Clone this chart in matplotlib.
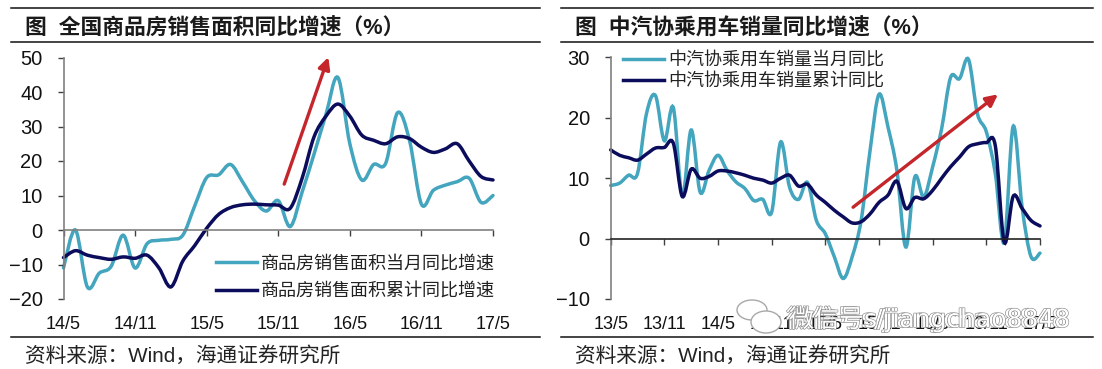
import numpy as np
import matplotlib
matplotlib.use("Agg")
import matplotlib.pyplot as plt
import matplotlib.patheffects as pe
from matplotlib.lines import Line2D
from matplotlib.patches import Ellipse, PathPatch
from matplotlib.path import Path

plt.rcParams['font.family'] = ['Liberation Sans', 'Noto Sans CJK SC', 'DejaVu Sans']

WIDTH = 1102
HEIGHT = 369

TEAL = '#43A5BE'
NAVY = '#0C0C5C'
RED = '#C4262B'

# left chart
house_ticks = ['14/5', '14/11', '15/5', '15/11', '16/5', '16/11', '17/5']
house_month = [-11, 0, -16.5, -12.5, -10.5, -1.5, -11, -4, -3, -2.7, -1.5, 7, 15.2, 16, 19, 14, 8.5,
               5.5, 8.5, 1, 11, 22, 33.5, 44.2, 25, 14.5, 19, 19.3, 34, 26, 7.5, 11.5, 13, 14, 15, 8, 10]
house_total = [-8, -6, -7.3, -8, -8.5, -7.8, -8.2, -7.3, -11, -16.5, -9, -4.5, 0.5, 4.5, 6.5, 7.3, 7.5,
               7.3, 7.2, 6.3, 15, 27, 33, 36.5, 33, 27.5, 26, 25, 27, 26.5, 24, 22.5, 23.5, 25, 20, 15.5, 14.5]
house_arrow_x = [18.5, 22.2]
house_arrow_y = [13.3, 50.1]

# right chart
car_ticks = ['13/5', '13/11', '14/5', '14/11', '15/5', '15/11', '16/5', '16/11', '17/5']
car_month = [8.8, 9.2, 10.5, 10.8, 20.7, 23.7, 16.2, 21.7, 7, 18, 7.7, 11.3, 13.8, 11.3, 9.4, 8.3, 6.3,
             6.5, 4.4, 16, 8.5, 6.5, 9.3, 3, 0.8, -3, -6.6, -3, 3, 14.6, 23.9, 18.5, 11.3, -1.4, 10.2,
             6.9, 11.9, 18.2, 26.7, 26.5, 29.7, 20.7, 17.7, 10.8, -0.6, 18.6, 5.2, -3, -2.4]
car_total = [14.7, 13.8, 13.4, 13, 14, 15, 15.1, 15.8, 7, 11.5, 10, 10.3, 11.2, 11.2, 10.9, 10.5, 10,
             9.7, 9.2, 10, 10.5, 8.7, 9, 7.2, 6, 4.7, 3.6, 2.6, 2.8, 4.1, 6, 7.2, 9.5, 5, 6.8,
             6.6, 8, 10, 11.9, 13.5, 15.2, 15.7, 15.9, 15.4, -0.6, 7, 5, 3, 2.1]
car_arrow_x = [27.1, 43.3]
car_arrow_y = [5.2, 23.9]


def px_box(left, top, right, bottom):
    return [left / WIDTH, 1 - bottom / HEIGHT, (right - left) / WIDTH, (bottom - top) / HEIGHT]


# excel style smoothed line
def smooth_line(ax, values, color):
    y = np.array(values, dtype=float)
    x = np.arange(len(y), dtype=float)
    verts = [(x[0], y[0])]
    codes = [Path.MOVETO]
    for i in range(len(y) - 1):
        a = max(i - 1, 0)
        b = min(i + 2, len(y) - 1)
        verts.append((x[i] + (x[i + 1] - x[a]) / 6, y[i] + (y[i + 1] - y[a]) / 6))
        verts.append((x[i + 1] - (x[b] - x[i]) / 6, y[i + 1] - (y[b] - y[i]) / 6))
        verts.append((x[i + 1], y[i + 1]))
        codes += [Path.CURVE4] * 3
    ax.add_patch(PathPatch(Path(verts, codes), fc='none', ec=color, lw=2.5, clip_on=False, capstyle='round'))


def setup_axis(ax, months, ylim, yticks, xticks, pad, zero_color):
    ax.set_xlim(0, months)
    ax.set_ylim(*ylim)
    ax.set_yticks(yticks)
    ax.set_xticks(np.linspace(0, months, len(xticks)))
    ax.set_xticklabels(xticks)
    for side in ['top', 'right']:
        ax.spines[side].set_visible(False)
    ax.spines['left'].set_color('#808080')
    ax.spines['left'].set_linewidth(1.2)
    ax.spines['bottom'].set_position(('data', 0))
    ax.spines['bottom'].set_color(zero_color)
    ax.spines['bottom'].set_linewidth(1.2)
    ax.tick_params(axis='y', length=4, width=1, color='#404040', labelsize=14.5, pad=11, labelcolor='#111111')
    ax.tick_params(axis='x', length=4, width=1, color='#404040', labelsize=13, pad=pad, labelcolor='#111111')
    ax.patch.set_alpha(0)


def add_legend(ax, labels, left, top, spacing):
    handles = [Line2D([], [], color=TEAL, lw=2.5), Line2D([], [], color=NAVY, lw=2.5)]
    ax.legend(handles, labels, frameon=False, loc='upper left',
              bbox_to_anchor=(left / WIDTH, 1 - top / HEIGHT), bbox_transform=fig.transFigure,
              fontsize=13, handlelength=2.25, handletextpad=0.25, labelspacing=spacing,
              borderpad=0, borderaxespad=0, labelcolor='#222222')


def add_arrow(ax, xs, ys):
    ax.annotate('', xy=(xs[1], ys[1]), xytext=(xs[0], ys[0]), annotation_clip=False,
                arrowprops=dict(arrowstyle='-|>,head_length=0.7,head_width=0.35', color=RED, lw=2.4,
                                shrinkA=0, shrinkB=0))


def add_frame(left, right, title, source):
    for y in [7.5, 42, 337]:
        fig.add_artist(Line2D([left / WIDTH, right / WIDTH], [1 - y / HEIGHT] * 2, color='#111111', lw=1.1))
    fig.text((left + 14) / WIDTH, 1 - 28.5 / HEIGHT, title, fontsize=15.7, fontweight='bold',
             color='#1a1a1a', va='center')
    fig.text((left + 14) / WIDTH, 1 - 355.5 / HEIGHT, source, fontsize=14.9, color='#222222', va='center')


fig = plt.figure(figsize=(WIDTH / 100, HEIGHT / 100), dpi=100, facecolor='white')

ax1 = fig.add_axes(px_box(63.5, 57.5, 493, 299))
setup_axis(ax1, 36, (-20, 50), list(range(-20, 51, 10)), house_ticks, 58, '#808080')
smooth_line(ax1, house_month, TEAL)
smooth_line(ax1, house_total, NAVY)
add_arrow(ax1, house_arrow_x, house_arrow_y)
add_legend(ax1, ['商品房销售面积当月同比增速', '商品房销售面积累计同比增速'], 216, 255.5, 0.58)
add_frame(11, 540, '图  全国商品房销售面积同比增速（%）', '资料来源：Wind，海通证券研究所')

ax2 = fig.add_axes(px_box(610.7, 57.5, 1040, 299))
setup_axis(ax2, 48, (-10, 30), [-10, 0, 10, 20, 30], car_ticks, 52, '#222222')
smooth_line(ax2, car_month, TEAL)
smooth_line(ax2, car_total, NAVY)
add_arrow(ax2, car_arrow_x, car_arrow_y)
add_legend(ax2, ['中汽协乘用车销量当月同比', '中汽协乘用车销量累计同比'], 623, 52.5, 0.2)
add_frame(561, 1093, '图  中汽协乘用车销量同比增速（%）', '资料来源：Wind，海通证券研究所')

# wechat watermark, outlined text sitting over the tick labels
for cx, cy, w, h in [(752, 310, 30, 20), (766, 322, 30, 22)]:
    fig.add_artist(Ellipse((cx / WIDTH, 1 - cy / HEIGHT), w / WIDTH, h / HEIGHT, transform=fig.transFigure,
                           fc='white', ec='#a8a8a8', lw=1.0))
mark = [pe.withStroke(linewidth=0.9, foreground='#8a8a8a')]
for dx in [0, 3]:
    t = fig.text((786 + dx) / WIDTH, 1 - 319 / HEIGHT, '微信号s/jiangchao8848', fontsize=18, color='white',
                 va='center', family=['DejaVu Sans', 'Noto Sans CJK SC'])
    t.set_path_effects(mark)

fig.savefig('out.png', dpi=100)
